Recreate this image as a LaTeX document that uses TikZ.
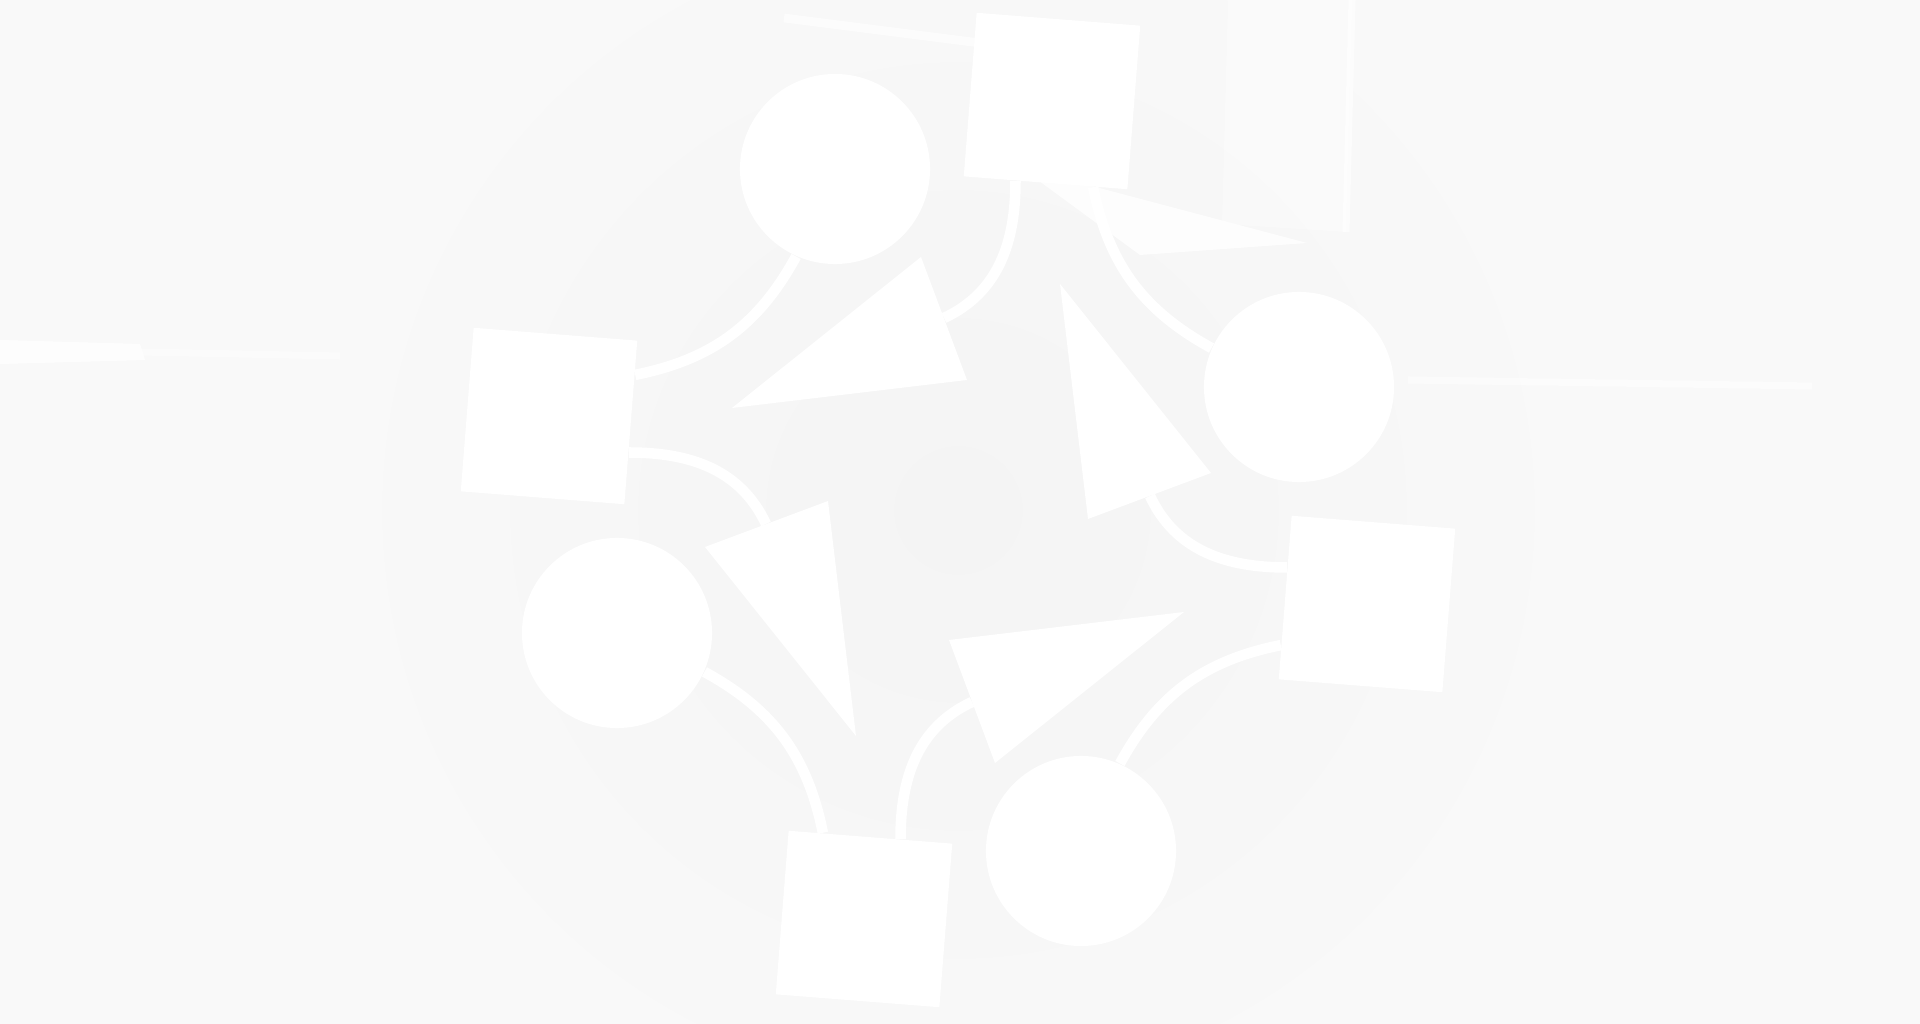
\documentclass[tikz,border=0pt]{standalone}
\usepackage{tikz}
\definecolor{paper}{RGB}{249,249,249}
\definecolor{haze}{RGB}{244,244,244}

\begin{document}
\begin{tikzpicture}[x=0.01cm,y=0.01cm,
  blob/.style={circle,fill=white,minimum size=1.9cm,inner sep=0pt},
  tile/.style={rectangle,fill=white,minimum size=1.64cm,inner sep=0pt,rotate=-4.5},
  link/.style={draw=white,line width=3pt},
  glint/.style={white,opacity=0.6}]
  \useasboundingbox (0,0) rectangle (1920,1024);
  \fill[paper] (0,0) rectangle (1920,1024);
  \shade[inner color=haze,outer color=paper] (958,514) circle (640);
  % faint streaks
  \fill[glint,opacity=0.8] (1020,857)--(1307,781)--(1140,769)--cycle;
  \fill[glint,opacity=0.3] (1228,1024)--(1352,1024)--(1346,792)--(1222,800)--cycle;
  \draw[glint,line width=2pt] (1352,1024)--(1346,792);
  \draw[glint,line width=2.5pt] (784,1006)--(980,981);
  \fill[glint,opacity=0.8] (0,684)--(140,680)--(145,664)--(0,660)--cycle;
  \draw[glint,opacity=0.4,line width=2pt] (140,672)--(340,668);
  \draw[glint,opacity=0.5,line width=2pt] (1408,644)--(1812,638);
  % ring of shapes
  \node[tile] (s1) at (1052,923) {};
  \node[tile] (s2) at (549,608) {};
  \node[tile] (s3) at (1367,420) {};
  \node[tile] (s4) at (864,105) {};
  \node[blob] (c1) at (835,855) {};
  \node[blob] (c2) at (1299,637) {};
  \node[blob] (c3) at (617,391) {};
  \node[blob] (c4) at (1081,173) {};
  % arrow heads
  \fill[white] (732,616)--(921,767)--(967,644)--cycle;
  \fill[white] (856,288)--(705,477)--(828,523)--cycle;
  \fill[white] (1184,412)--(995,261)--(949,384)--cycle;
  \fill[white] (1060,740)--(1211,551)--(1088,505)--cycle;
  \coordinate (b1) at (944,706);
  \coordinate (b2) at (766,500);
  \coordinate (b3) at (972,322);
  \coordinate (b4) at (1150,528);
  % shafts
  \draw[link] (s1.250) to[out=-90,in=25] (b1);
  \draw[link] (s2.-20) to[out=0,in=115] (b2);
  \draw[link] (s4.70) to[out=90,in=205] (b3);
  \draw[link] (s3.160) to[out=180,in=295] (b4);
  % circle links
  \draw[link] (c1.246) to[bend left=25] (s2.30);
  \draw[link] (c3.336) to[bend left=25] (s4.120);
  \draw[link] (c4.66) to[bend left=25] (s3.210);
  \draw[link] (c2.156) to[bend left=25] (s1.300);
\end{tikzpicture}
\end{document}
